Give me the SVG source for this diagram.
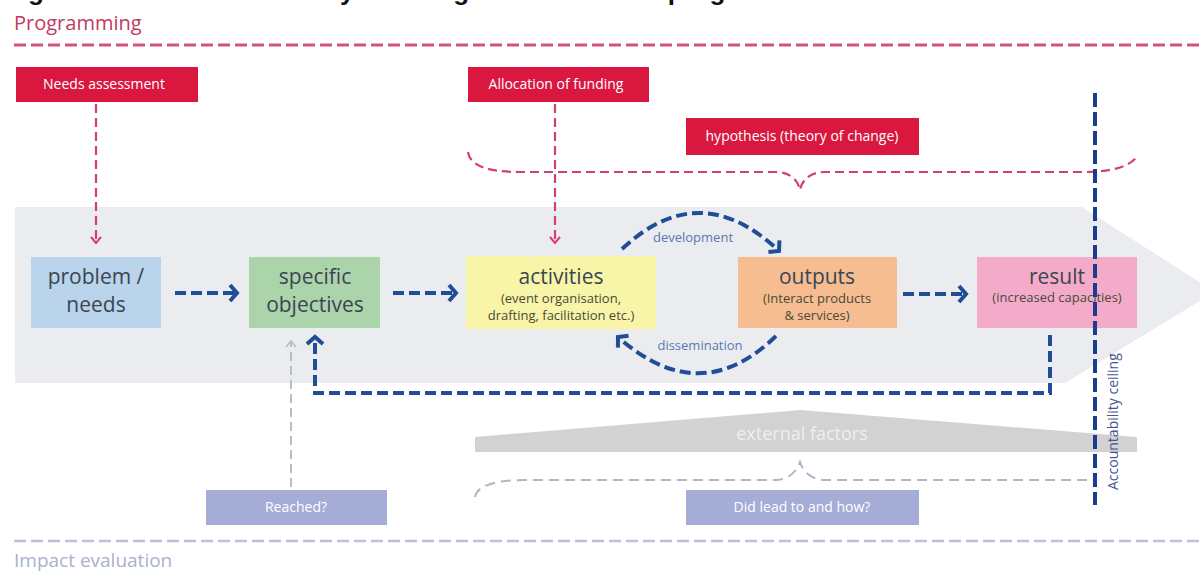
<svg xmlns="http://www.w3.org/2000/svg" width="1200" height="572" viewBox="0 0 1200 572">
<defs>
<style>
text{font-family:"Open Sans","Liberation Sans",sans-serif}
.title{font-family:"Liberation Sans",Arial,sans-serif;font-weight:bold;font-size:26px;fill:#111}
.lbl{fill:#fff;font-size:14px;text-anchor:middle}
.big{fill:#3b4552;font-size:21px;text-anchor:middle}
.small{fill:#4a4a3a;font-size:13px;text-anchor:middle}
.blue{fill:none;stroke:#1f4e96;stroke-width:4;stroke-dasharray:11 5}
.pink{fill:none;stroke:#d2416b;stroke-width:2.2;stroke-dasharray:9 5}
.arcl{fill:#5a78b0;font-size:13px;text-anchor:middle}
</style>
<marker id="chev" viewBox="0 0 12 20" refX="9" refY="10" markerWidth="12" markerHeight="20" markerUnits="userSpaceOnUse" orient="auto">
<path d="M2,2 L9,10 L2,18" fill="none" stroke="#1f4e96" stroke-width="4"/>
</marker>
<marker id="pchev" viewBox="0 0 10 12" refX="7" refY="6" markerWidth="10" markerHeight="12" markerUnits="userSpaceOnUse" orient="auto">
<path d="M1,1 L7,6 L1,11" fill="none" stroke="#d2416b" stroke-width="2"/>
</marker>
<marker id="gchev" viewBox="0 0 10 12" refX="7" refY="6" markerWidth="10" markerHeight="12" markerUnits="userSpaceOnUse" orient="auto">
<path d="M1,1 L7,6 L1,11" fill="none" stroke="#b9bccb" stroke-width="1.6"/>
</marker>
</defs>
<rect width="1200" height="572" fill="#fff"/>
<text class="title" x="5" y="0" textLength="805" lengthAdjust="spacing">Figure 1: Intervention theory of change of the Interact programme</text>

<g id="programming">
<text x="14" y="30" font-size="20" fill="#c23a60">Programming</text>
<line x1="14" y1="45" x2="1200" y2="45" stroke="#d4537a" stroke-width="3" stroke-dasharray="12 5"/>
</g>

<g id="band">
<polygon points="15,207 1082,207 1215,292 1065,383 15,383" fill="#ebecf0"/>
</g>

<g id="needs-assessment">
<rect x="16" y="67" width="182" height="35" fill="#d9173f"/>
<text class="lbl" x="104" y="89">Needs assessment</text>
</g>
<g id="allocation">
<rect x="468" y="67" width="181" height="35" fill="#d9173f"/>
<text class="lbl" x="556" y="89">Allocation of funding</text>
</g>
<g id="hypothesis">
<rect x="686" y="118" width="233" height="37" fill="#d9173f"/>
<text class="lbl" x="802" y="141">hypothesis (theory of change)</text>
</g>

<g id="problem">
<rect x="31" y="257" width="130" height="71" fill="#b9d4eb"/>
<text class="big" x="96" y="284">problem /</text>
<text class="big" x="96" y="312">needs</text>
</g>
<g id="objectives">
<rect x="249" y="257" width="131" height="71" fill="#abd4ab"/>
<text class="big" x="315" y="284">specific</text>
<text class="big" x="315" y="312">objectives</text>
</g>
<g id="activities">
<rect x="466" y="256" width="190" height="73" fill="#f8f5a9"/>
<text class="big" x="561" y="284">activities</text>
<text class="small" x="561" y="303">(event organisation,</text>
<text class="small" x="561" y="320">drafting, facilitation etc.)</text>
</g>
<g id="outputs">
<rect x="738" y="257" width="159" height="71" fill="#f5bd90"/>
<text class="big" x="817" y="284">outputs</text>
<text class="small" x="817" y="303">(Interact products</text>
<text class="small" x="817" y="320">&amp; services)</text>
</g>
<g id="result">
<rect x="977" y="257" width="160" height="71" fill="#f4abc9"/>
<text class="big" x="1057" y="284">result</text>
<text class="small" x="1057" y="302">(increased capacities)</text>
</g>

<g id="external-factors">
<polygon points="475,437 800,410 1137,437 1137,452 475,452" fill="#d2d2d2"/>
<text x="802" y="440" font-size="18" fill="#eeeeee" text-anchor="middle">external factors</text>
</g>

<g id="reached">
<rect x="206" y="490" width="181" height="35" fill="#a5acd5"/>
<text class="lbl" x="296" y="512">Reached?</text>
</g>
<g id="did-lead">
<rect x="686" y="490" width="233" height="35" fill="#a5acd5"/>
<text class="lbl" x="802" y="512">Did lead to and how?</text>
</g>

<g id="impact">
<line x1="14" y1="541" x2="1200" y2="541" stroke="#bcc0da" stroke-width="2.5" stroke-dasharray="12 5"/>
<text x="14" y="567" font-size="19" fill="#a9b1cd">Impact evaluation</text>
</g>

<g id="connectors">
<path class="pink" d="M96,104 L96,243" marker-end="url(#pchev)"/>
<path class="pink" d="M555,104 L555,243" marker-end="url(#pchev)"/>
<path class="pink" d="M468,152 C470,166 488,172 520,172 L775,172 C790,172 798,180 800,190 C802,180 810,172 825,172 L1085,172 C1112,172 1132,166 1138,155"/>
<path class="blue" d="M175,293 L237,293" marker-end="url(#chev)"/>
<path class="blue" d="M393,293 L456,293" marker-end="url(#chev)"/>
<path class="blue" d="M903,294 L966,294" marker-end="url(#chev)"/>
<path class="blue" d="M622,249 Q700,176 779,251" marker-end="url(#chev)"/>
<path class="blue" d="M776,336 Q700,410 618,337" marker-end="url(#chev)"/>
<path class="blue" d="M1050,335 L1050,393 L315,393 L315,337" marker-end="url(#chev)"/>
<path d="M291,487 L291,341" fill="none" stroke="#b9bccb" stroke-width="2" stroke-dasharray="9 5" marker-end="url(#gchev)"/>
<path d="M475,497 C477,486 494,480 525,480 L775,480 C789,480 797,471 800,462 C803,471 811,480 825,480 L1092,480" fill="none" stroke="#b2b5c6" stroke-width="2" stroke-dasharray="10 6"/>
<text class="arcl" x="693" y="242">development</text>
<text class="arcl" x="700" y="350">dissemination</text>
</g>

<g id="accountability">
<line x1="1095" y1="93" x2="1095" y2="505" stroke="#1a3b8f" stroke-width="4" stroke-dasharray="14 5"/>
<text x="1118" y="490" font-size="14" fill="#4a5490" transform="rotate(-90 1118 490)">Accountability ceiling</text>
</g>
</svg>
